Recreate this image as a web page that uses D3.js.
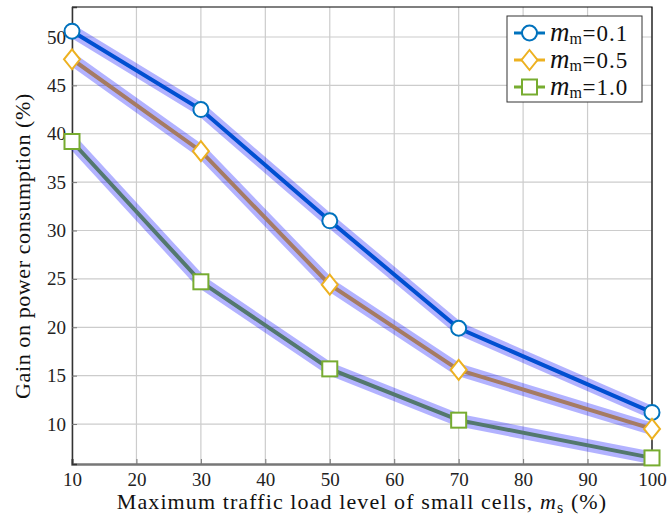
<!DOCTYPE html>
<html>
<head>
<meta charset="utf-8">
<script src="https://cdn.jsdelivr.net/npm/d3@7"></script>
<style>
  body { margin: 0; background: #fff; }
  svg { font-family: "Liberation Serif", "DejaVu Serif", serif; }
</style>
</head>
<body>
<svg id="chart" width="672" height="518"></svg>
<script>
// data
var loads = [10, 30, 50, 70, 100];
var gain01 = [50.6, 42.5, 31.0, 19.9, 11.2];
var gain05 = [47.7, 38.2, 24.4, 15.6, 9.5];
var gain10 = [39.2, 24.7, 15.7, 10.4, 6.5];
var xTicks = [10, 20, 30, 40, 50, 60, 70, 80, 90, 100];
var yTicks = [10, 15, 20, 25, 30, 35, 40, 45, 50];

var series = [
  {name: "0.1", values: gain01, color: "#0072BD", marker: "circle"},
  {name: "0.5", values: gain05, color: "#EDB120", marker: "diamond"},
  {name: "1.0", values: gain10, color: "#77AC30", marker: "square"}
];

var svg = d3.select("#chart");
var pLeft = 72, pRight = 652, pTop = 7, pBottom = 464;

var x = d3.scaleLinear().domain([10, 100]).range([pLeft, pRight]);
var y = d3.scaleLinear().domain([5.87, 53.1]).range([pBottom, pTop]);

// grid
var grid = svg.append("g");
grid.selectAll(".gx").data(xTicks).enter().append("line")
  .attr("x1", function(d) { return x(d); }).attr("x2", function(d) { return x(d); })
  .attr("y1", pTop).attr("y2", pBottom)
  .style("stroke", "#cccccc").style("stroke-width", 1.2);
grid.selectAll(".gy").data(yTicks).enter().append("line")
  .attr("x1", pLeft).attr("x2", pRight)
  .attr("y1", function(d) { return y(d); }).attr("y2", function(d) { return y(d); })
  .style("stroke", "#cccccc").style("stroke-width", 1.2);

// box (top/right)
svg.append("path")
  .attr("d", "M" + pLeft + "," + pTop + "H" + pRight + "V" + pBottom)
  .style("fill", "none").style("stroke", "#000").style("stroke-width", 1.2);

// axes
var xAxis = svg.append("g").attr("transform", "translate(0," + pBottom + ")")
  .call(d3.axisBottom(x).tickValues(xTicks).tickSize(-5).tickPadding(9));
var yAxis = svg.append("g").attr("transform", "translate(" + pLeft + ",0)")
  .call(d3.axisLeft(y).tickValues(yTicks).tickSize(-5).tickPadding(6));
xAxis.select(".domain").style("stroke", "#777").style("stroke-width", 2.5);
yAxis.select(".domain").style("stroke", "#333").style("stroke-width", 1.5);
xAxis.selectAll(".tick line").style("stroke", "#777");
yAxis.selectAll(".tick line").style("stroke", "#777");
[xAxis, yAxis].forEach(function(a) {
  a.selectAll("text").style("font-family", "'Liberation Serif', serif")
    .style("font-size", "19px").style("fill", "#222");
});

var line = d3.line()
  .x(function(d, i) { return x(loads[i]); })
  .y(function(d) { return y(d); });

// lines then translucent halo on top
series.forEach(function(s) {
  svg.append("path").datum(s.values).attr("d", line)
    .style("fill", "none").style("stroke", s.color).style("stroke-width", 4);
  svg.append("path").datum(s.values).attr("d", line)
    .style("fill", "none").style("stroke", "rgba(0,0,255,0.3)")
    .style("stroke-width", 12.5).style("stroke-linejoin", "round");
});

function drawMarker(g, type, cx, cy, color) {
  if (type == "circle") {
    g.append("circle").attr("cx", cx).attr("cy", cy).attr("r", 7.5)
      .style("fill", "#fff").style("stroke", color).style("stroke-width", 2);
  } else if (type == "diamond") {
    g.append("path").attr("d", "M" + cx + "," + (cy - 10) + "L" + (cx + 8) + "," + cy +
        "L" + cx + "," + (cy + 10) + "L" + (cx - 8) + "," + cy + "Z")
      .style("fill", "#fff").style("stroke", color).style("stroke-width", 2);
  } else {
    g.append("rect").attr("x", cx - 7.5).attr("y", cy - 7.5).attr("width", 15).attr("height", 15)
      .style("fill", "#fff").style("stroke", color).style("stroke-width", 2);
  }
}

series.forEach(function(s) {
  var g = svg.append("g");
  s.values.forEach(function(v, i) { drawMarker(g, s.marker, x(loads[i]), y(v), s.color); });
});

// legend
var lg = svg.append("g");
lg.append("rect").attr("x", 507).attr("y", 16).attr("width", 135).attr("height", 86)
  .style("fill", "#fff").style("stroke", "#333").style("stroke-width", 1);
series.forEach(function(s, i) {
  var ly = 33 + i * 27;
  lg.append("line").attr("x1", 514).attr("x2", 545).attr("y1", ly).attr("y2", ly)
    .style("stroke", s.color).style("stroke-width", 3);
  drawMarker(lg, s.marker, 529.5, ly, s.color);
  var t = lg.append("text").attr("x", 550).attr("y", ly + 8)
    .style("font-size", "23px").style("fill", "#111");
  t.append("tspan").style("font-style", "italic").style("font-size", "27px").text("m");
  t.append("tspan").attr("dy", 3).style("font-size", "16px").style("letter-spacing", "0.5px").text("m");
  t.append("tspan").attr("dy", -3).style("letter-spacing", "1px").text("=" + s.name);
});

// axis labels
var xl = svg.append("text").attr("x", (pLeft + pRight) / 2).attr("y", 509)
  .attr("text-anchor", "middle").style("font-size", "22px").style("letter-spacing", "1.1px")
  .style("fill", "#111");
xl.append("tspan").text("Maximum traffic load level of small cells, ");
xl.append("tspan").style("font-style", "italic").text("m");
xl.append("tspan").attr("dy", 4).style("font-size", "16px").text("s");
xl.append("tspan").attr("dy", -4).text(" (%)");

svg.append("text").attr("transform", "translate(30,246) rotate(-90)")
  .attr("text-anchor", "middle").style("font-size", "22px").style("letter-spacing", "0.6px")
  .style("fill", "#111")
  .text("Gain on power consumption (%)");
</script>
</body>
</html>
